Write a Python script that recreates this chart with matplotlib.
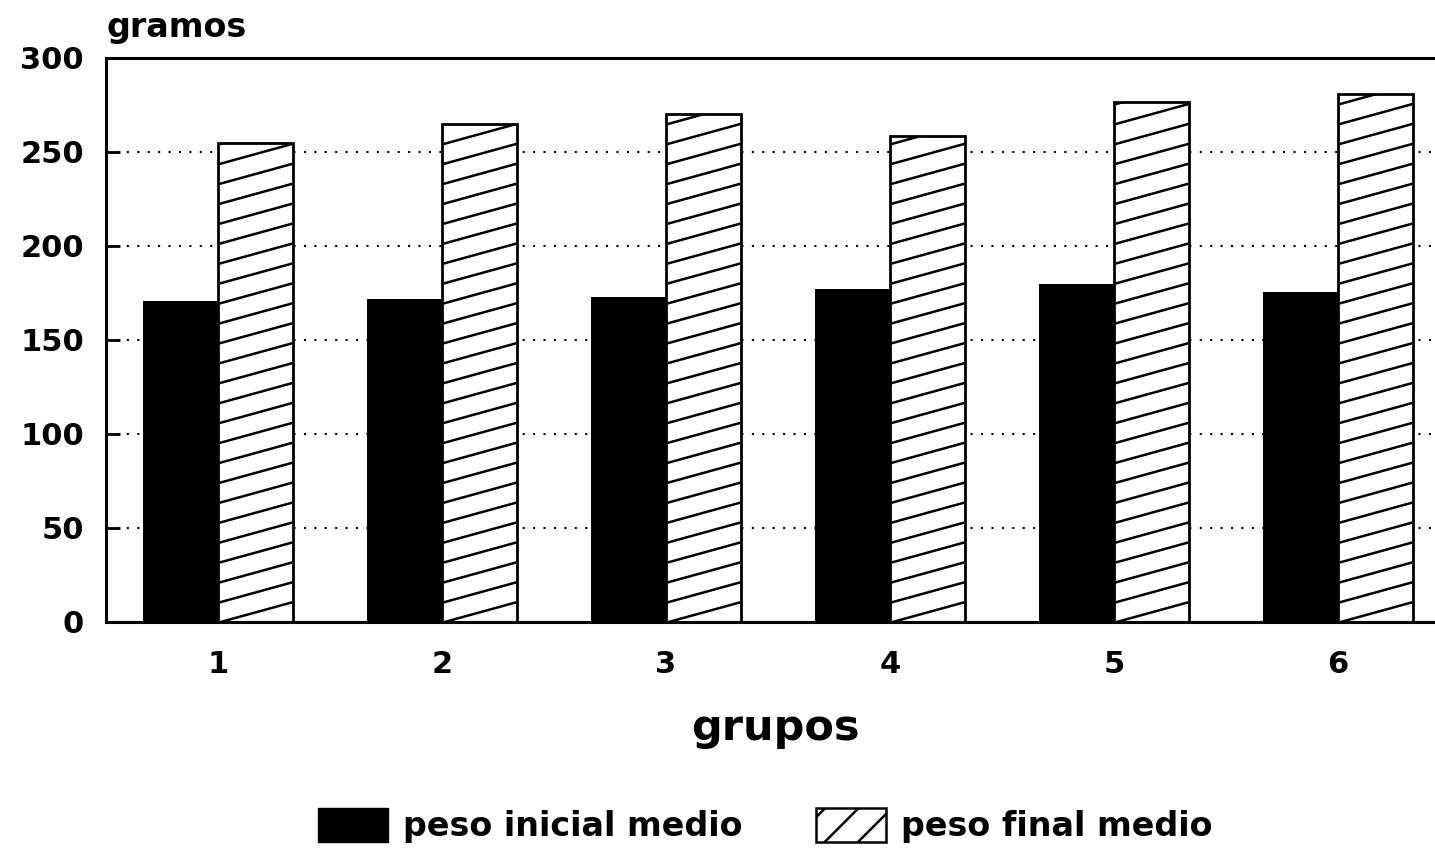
import matplotlib

matplotlib.use("Agg")

import matplotlib.pyplot as plt
import numpy as np
from matplotlib.patches import Patch

# values (grams)
grupos = [1, 2, 3, 4, 5, 6]
peso_inicial = [171, 172, 173, 177, 180, 175.5]
peso_final = [255, 265, 270, 258.5, 276.5, 281]
y_ticks = [0, 50, 100, 150, 200, 250, 300]

plt.rcParams["font.family"] = ["DejaVu Sans"]
plt.rcParams["font.weight"] = "bold"
plt.rcParams["hatch.linewidth"] = 1.8

fig = plt.figure(figsize=(14.35, 8.49), dpi=100)
ax = fig.add_axes([0.0739, 0.2674, 0.9261, 0.6643])

x = np.array(grupos, dtype=float)
width = 0.335

ax.bar(x - width / 2, peso_inicial, width, color="black", linewidth=0, zorder=2)
final_bars = ax.bar(
    x + width / 2, peso_final, width, facecolor="white", edgecolor="black", linewidth=2.0, zorder=2
)

# shallow diagonal hatching, clipped to each bar
rise, spacing = 11.0, 10.6
for bar in final_bars:
    xl = bar.get_x()
    xr = xl + bar.get_width()
    top = bar.get_height()
    for c in np.arange(-rise, top + spacing, spacing):
        (line,) = ax.plot([xl, xr], [c, c + rise], color="black", linewidth=1.8, zorder=3)
        line.set_clip_path(bar)

ax.set_xlim(0.5, 6.433)
ax.set_ylim(0, 300)
ax.set_yticks(y_ticks)
ax.set_xticks(x)
ax.set_xticklabels([str(g) for g in grupos])

ax.set_axisbelow(True)
ax.yaxis.grid(True, linestyle=(0, (1, 4)), color="black", linewidth=1.5)

for side in ("top", "left", "bottom"):
    ax.spines[side].set_linewidth(2.2)
    ax.spines[side].set_zorder(4)
ax.spines["right"].set_visible(False)

ax.tick_params(axis="y", direction="in", length=10, width=2.0, pad=16, labelsize=22)
ax.tick_params(axis="x", length=0, pad=20, labelsize=22)
for lab in ax.get_xticklabels() + ax.get_yticklabels():
    lab.set_fontweight("bold")

ax.set_xlabel("grupos", fontsize=31, fontweight="bold", labelpad=20)
ax.xaxis.label.set_x(0.504)
ax.set_title("gramos", loc="left", fontsize=24, fontweight="bold", pad=15)

handles = [
    Patch(facecolor="black", edgecolor="black"),
    Patch(facecolor="white", edgecolor="black", linewidth=1.8, hatch="/"),
]
fig.legend(
    handles,
    ["peso inicial medio", "peso final medio"],
    loc="center",
    bbox_to_anchor=(0.533, 0.028),
    ncol=2,
    frameon=False,
    prop={"size": 24, "weight": "bold"},
    handlelength=2.1,
    handleheight=1.2,
    handletextpad=0.45,
    columnspacing=2.2,
)

plt.savefig("out.png", dpi=100)
plt.close(fig)
